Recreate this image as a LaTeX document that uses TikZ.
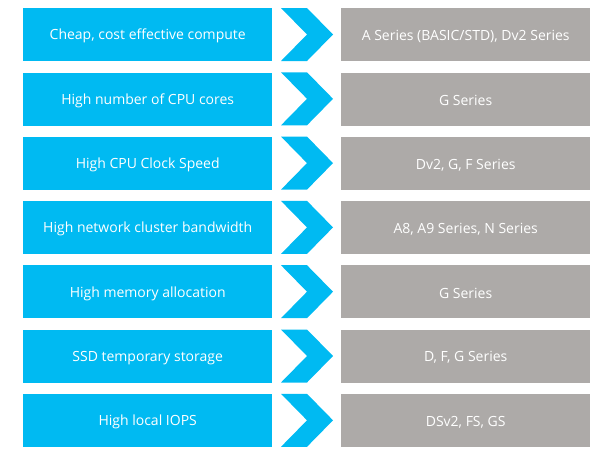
\documentclass[tikz,border=0pt]{standalone}
\usepackage{fontspec}
\setmainfont{Open Sans}
\definecolor{azblue}{RGB}{0,186,242}
\definecolor{azgrey}{RGB}{173,170,168}
\begin{document}
\begin{tikzpicture}[x=1pt,y=-1pt,
  boxbase/.style={minimum width=249pt,minimum height=53pt,inner sep=0pt,anchor=north west},
  leftbox/.style={boxbase,fill=azblue},
  rightbox/.style={boxbase,fill=azgrey},
  lbl/.style={text=white,font=\fontsize{14}{16}\selectfont},
  chev/.style={fill=azblue}]
\useasboundingbox (0,0) rectangle (601,456);
\foreach \i/\l/\r in {0/{Cheap, cost effective compute}/{A Series (BASIC/STD), Dv2 Series},
  1/{High number of CPU cores}/{G Series},
  2/{High CPU Clock Speed}/{Dv2, G, F Series},
  3/{High network cluster bandwidth}/{A8, A9 Series, N Series},
  4/{High memory allocation}/{G Series},
  5/{SSD temporary storage}/{D, F, G Series},
  6/{High local IOPS}/{DSv2, FS, GS}}{
  \pgfmathsetmacro{\yy}{8+64.3*\i}
  \node[leftbox] (l\i) at (23,\yy) {};
  \node[lbl] (lt\i) at ([yshift=-1.5pt]l\i.center) {\l};
  \node[rightbox] (r\i) at (341,\yy) {};
  \node[lbl] (rt\i) at ([yshift=-1.5pt]r\i.center) {\r};
  \fill[chev] (281,\yy) -- ++(26,0) -- ++(26,26.5) -- ++(-26,26.5) -- ++(-26,0) -- ++(26,-26.5) -- cycle;
}
\end{tikzpicture}
\end{document}
